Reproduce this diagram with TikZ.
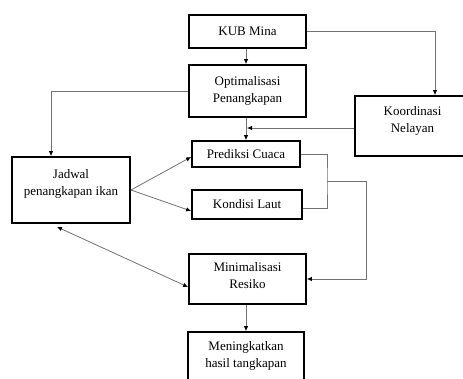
\documentclass[tikz,border=0pt]{standalone}
\usepackage{fontspec}
\setmainfont{Liberation Serif}
\usetikzlibrary{arrows.meta}
\begin{document}
\begin{tikzpicture}[x=1pt,y=-1pt,
  box/.style={draw=black,line width=1.8pt,align=center,inner sep=0pt,
    font=\fontsize{13}{17}\selectfont,text=black},
  conn/.style={draw=black!55,line width=0.8pt},
  arr/.style={conn,-{Latex[length=5pt,width=4.5pt,black]}},
  darr/.style={conn,{Latex[length=5pt,width=4.5pt,black]}-{Latex[length=5pt,width=4.5pt,black]}}]
\clip (0,0) rectangle (463,378);
\fill[white] (0,0) rectangle (463,378);
\node[box,minimum width=117pt,minimum height=33pt] (kub) at (247.5,31.5) {KUB Mina};
\node[box,minimum width=117pt,minimum height=52pt] (opt) at (247.5,91) {Optimalisasi\\Penangkapan};
\node[box,minimum width=115pt,minimum height=60pt,text depth=13pt] (koord) at (412.5,126) {Koordinasi\\Nelayan};
\node[box,minimum width=108pt,minimum height=26pt] (pred) at (246,154) {Prediksi Cuaca};
\node[box,minimum width=110pt,minimum height=29pt] (kond) at (247,204.5) {Kondisi Laut};
\node[box,minimum width=118pt,minimum height=66pt,text depth=15pt] (jad) at (71,190) {Jadwal\\penangkapan ikan};
\node[box,minimum width=117pt,minimum height=50pt,text depth=7pt] (mini) at (247.5,279) {Minimalisasi\\Resiko};
\node[box,minimum width=116pt,minimum height=48pt] (men) at (246,356) {Meningkatkan\\hasil tangkapan};
\coordinate (b) at (327,181);
\coordinate (c) at (366,181);
\draw[arr] (kub.south -| men.north) -- (opt.north -| men.north);
\draw[arr] (kub.east) -| ([xshift=22.5pt]koord.north);
\draw[arr] (opt.west) -| ([xshift=-20pt]jad.north);
\draw[arr] (pred.north |- opt.south) -- (pred.north);
\draw[arr] ([yshift=-2pt]koord.west) -- ([yshift=-2pt,xshift=1pt]pred.north |- koord.west);
\draw[arr] (jad.east) -- ([yshift=-3pt]pred.west);
\draw[arr] (jad.east) -- ([yshift=-6.5pt]kond.west);
\draw[conn] (pred.east) -| (b) |- ([yshift=-3.5pt]kond.east);
\draw[arr] (b) -- (c) |- (mini.east);
\draw[darr] ([xshift=-14pt,yshift=-3pt]jad.south) -- ([yshift=-8pt]mini.west);
\draw[arr] (mini.south -| men.north) -- (men.north);
\end{tikzpicture}
\end{document}
